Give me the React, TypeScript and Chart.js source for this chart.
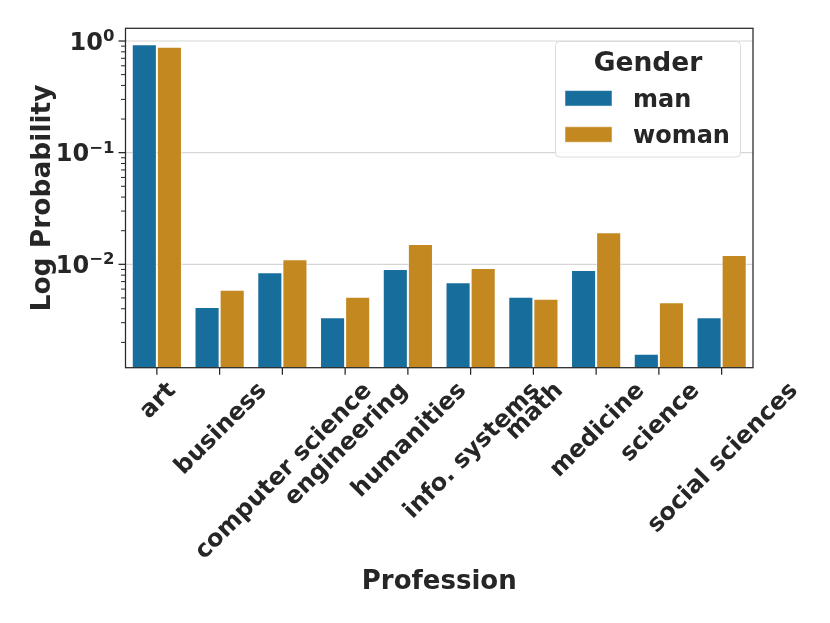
import React, { useEffect, useRef } from "react";
import { Chart, registerables } from "chart.js";

Chart.register(...registerables);

const professions = [
  "art",
  "business",
  "computer science",
  "engineering",
  "humanities",
  "info. systems",
  "math",
  "medicine",
  "science",
  "social sciences",
];
const manValues = [0.934, 0.00414, 0.00848, 0.00335, 0.00908, 0.0069, 0.00513, 0.00889, 0.00158, 0.00335];
const womanValues = [0.889, 0.00592, 0.0111, 0.00513, 0.0152, 0.00927, 0.00492, 0.0194, 0.00457, 0.0121];
const seriesNames = ["man", "woman"];
const majorTickValues = [1, 0.1, 0.01];
const majorTickExponents = ["0", "\u22121", "\u22122"];
const minorTickValues = [
  0.002, 0.003, 0.004, 0.005, 0.006, 0.007, 0.008, 0.009,
  0.02, 0.03, 0.04, 0.05, 0.06, 0.07, 0.08, 0.09,
  0.2, 0.3, 0.4, 0.5, 0.6, 0.7, 0.8, 0.9,
];
const yMin = 0.001186;
const yMax = 1.3;

const MAN_COLOR = "rgb(23,110,156)";
const WOMAN_COLOR = "rgb(195,136,32)";
const TEXT = "#262626";
const FONT = '"DejaVu Sans", sans-serif';

const drawPlugin = {
  id: "seabornDecor",
  beforeDatasetsDraw(chart: any) {
    const { ctx, chartArea } = chart;
    const y = chart.scales.y;
    ctx.save();
    ctx.strokeStyle = "#d6d6d6";
    ctx.lineWidth = 1.2;
    majorTickValues.forEach((v) => {
      const py = y.getPixelForValue(v);
      ctx.beginPath();
      ctx.moveTo(chartArea.left, py);
      ctx.lineTo(chartArea.right, py);
      ctx.stroke();
    });
    ctx.restore();
  },
  afterDatasetsDraw(chart: any) {
    const { ctx, chartArea } = chart;
    const x = chart.scales.x;
    const y = chart.scales.y;
    ctx.save();
    // frame
    ctx.strokeStyle = TEXT;
    ctx.lineWidth = 1.25;
    ctx.strokeRect(chartArea.left, chartArea.top, chartArea.right - chartArea.left, chartArea.bottom - chartArea.top);

    // y ticks
    majorTickValues.forEach((v) => {
      const py = y.getPixelForValue(v);
      ctx.lineWidth = 1.25;
      ctx.beginPath();
      ctx.moveTo(chartArea.left - 7, py);
      ctx.lineTo(chartArea.left, py);
      ctx.stroke();
    });
    minorTickValues.forEach((v) => {
      const py = y.getPixelForValue(v);
      ctx.lineWidth = 1;
      ctx.beginPath();
      ctx.moveTo(chartArea.left - 4.5, py);
      ctx.lineTo(chartArea.left, py);
      ctx.stroke();
    });

    // y tick labels
    ctx.fillStyle = TEXT;
    ctx.textBaseline = "alphabetic";
    majorTickValues.forEach((v, i) => {
      const py = y.getPixelForValue(v);
      ctx.font = `bold 24px ${FONT}`;
      const wBase = ctx.measureText("10").width;
      ctx.font = `bold 16.5px ${FONT}`;
      const wSup = ctx.measureText(majorTickExponents[i]).width;
      const right = chartArea.left - 11;
      const startX = right - wBase - wSup;
      ctx.textAlign = "left";
      ctx.font = `bold 24px ${FONT}`;
      ctx.fillText("10", startX, py + 8.8);
      ctx.font = `bold 16.5px ${FONT}`;
      ctx.fillText(majorTickExponents[i], startX + wBase, py);
    });

    // x ticks and labels
    const fs = 24;
    ctx.font = `bold ${fs}px ${FONT}`;
    professions.forEach((label, i) => {
      const px = x.getPixelForValue(i);
      ctx.lineWidth = 1.25;
      ctx.beginPath();
      ctx.moveTo(px, chartArea.bottom);
      ctx.lineTo(px, chartArea.bottom + 7);
      ctx.stroke();
      const w = ctx.measureText(label).width;
      const H = 1.164 * fs;
      const cy = chartArea.bottom + 8 + (w + H) / (2 * Math.SQRT2);
      ctx.save();
      ctx.translate(px, cy);
      ctx.rotate(-Math.PI / 4);
      ctx.textAlign = "center";
      ctx.fillText(label, 0, 0.346 * fs);
      ctx.restore();
    });

    // axis titles
    ctx.font = `bold 26px ${FONT}`;
    ctx.textAlign = "center";
    ctx.fillText("Profession", (chartArea.left + chartArea.right) / 2, 589);
    ctx.save();
    ctx.translate(49.5, (chartArea.top + chartArea.bottom) / 2);
    ctx.rotate(-Math.PI / 2);
    ctx.font = `bold 26.5px ${FONT}`;
    ctx.fillText("Log Probability", 0, 0);
    ctx.restore();

    // legend
    ctx.beginPath();
    (ctx as any).roundRect(555.5, 41.5, 185, 115.5, 4);
    ctx.fillStyle = "rgba(255,255,255,0.85)";
    ctx.fill();
    ctx.strokeStyle = "#dcdcdc";
    ctx.lineWidth = 1;
    ctx.stroke();
    ctx.fillStyle = TEXT;
    ctx.font = `bold 26.5px ${FONT}`;
    ctx.textAlign = "center";
    ctx.fillText("Gender", 648, 71);
    const rows = [98.3, 134.5];
    const colors = [MAN_COLOR, WOMAN_COLOR];
    ctx.font = `bold 24px ${FONT}`;
    ctx.textAlign = "left";
    seriesNames.forEach((name, i) => {
      ctx.fillStyle = colors[i];
      ctx.fillRect(565, rows[i] - 7.75, 47, 15.5);
      ctx.strokeStyle = "rgba(255,255,255,0.5)";
      ctx.lineWidth = 1;
      ctx.strokeRect(565, rows[i] - 7.75, 47, 15.5);
      ctx.fillStyle = TEXT;
      ctx.fillText(name, 633, rows[i] + 8.3);
    });
    ctx.restore();
  },
};

export default function App() {
  const ref = useRef<HTMLCanvasElement | null>(null);
  useEffect(() => {
    if (!ref.current) return;
    const chart = new Chart(ref.current, {
      type: "bar",
      data: {
        labels: professions,
        datasets: [
          {
            label: seriesNames[0],
            data: manValues,
            backgroundColor: MAN_COLOR,
            borderColor: "rgba(255,255,255,0.55)",
            borderWidth: 1,
            categoryPercentage: 0.8,
            barPercentage: 1.0,
          },
          {
            label: seriesNames[1],
            data: womanValues,
            backgroundColor: WOMAN_COLOR,
            borderColor: "rgba(255,255,255,0.55)",
            borderWidth: 1,
            categoryPercentage: 0.8,
            barPercentage: 1.0,
          },
        ],
      },
      options: {
        responsive: false,
        animation: false,
        layout: { padding: { left: 125.5, right: 77, top: 28.3, bottom: 255.3 } },
        plugins: { legend: { display: false }, tooltip: { enabled: false } },
        scales: {
          x: { type: "category", display: false, offset: true },
          y: { type: "logarithmic", display: false, min: yMin, max: yMax },
        },
      },
      plugins: [drawPlugin],
    });
    return () => chart.destroy();
  }, []);
  return (
    <div style={{ position: "absolute", left: 0, top: 0, width: 830, height: 623, background: "#fff" }}>
      <canvas ref={ref} width={830} height={623} />
    </div>
  );
}
